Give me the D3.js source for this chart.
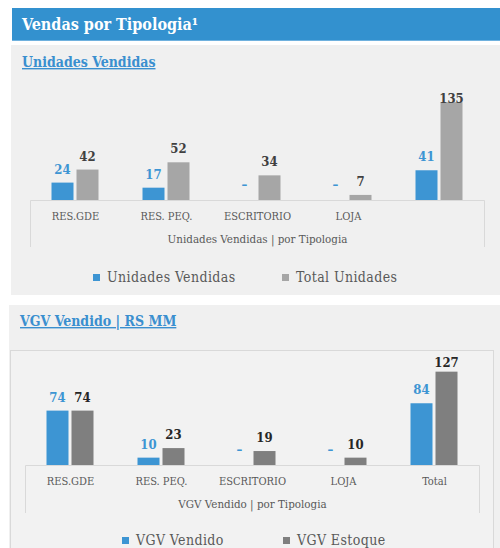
<!DOCTYPE html>
<html>
<head>
<meta charset="utf-8">
<script src="https://cdn.jsdelivr.net/npm/d3@7"></script>
<style>
  html, body { margin: 0; padding: 0; background: #ffffff; }
  svg { display: block; }
  .slab { font-family: "DejaVu Serif Condensed", "DejaVu Serif", serif; font-stretch: condensed; }
</style>
</head>
<body>
<svg id="chart" width="500" height="548"></svg>
<script>
// Units sold by type
const unitCategories = ["RES.GDE", "RES. PEQ.", "ESCRITORIO", "LOJA", ""];
const unitsSold = [24, 17, 0, 0, 41];
const unitsTotal = [42, 52, 34, 7, 135];
const unitSeries = ["Unidades Vendidas", "Total Unidades"];

// Sales value (R$ MM) by type
const vgvCategories = ["RES.GDE", "RES. PEQ.", "ESCRITORIO", "LOJA", "Total"];
const vgvSold = [74, 10, 0, 0, 84];
const vgvStock = [74, 23, 19, 10, 127];
const vgvSeries = ["VGV Vendido", "VGV Estoque"];

const BLUE = "#3d95d3";
const svg = d3.select("#chart");

// Header band
svg.append("rect").attr("x", 12).attr("y", 8).attr("width", 488).attr("height", 32).attr("fill", "#3391cf");
svg.append("rect").attr("x", 12).attr("y", 40).attr("width", 488).attr("height", 1).attr("fill", "#6fb1de");
svg.append("text").attr("class", "slab")
  .attr("x", 22).attr("y", 30)
  .attr("fill", "#ffffff").attr("font-size", 16).attr("font-weight", "bold")
  .text("Vendas por Tipologia¹");

// Panels
svg.append("rect").attr("x", 11).attr("y", 45).attr("width", 489).attr("height", 250).attr("fill", "#f0f0f0");
svg.append("rect").attr("x", 9).attr("y", 305).attr("width", 491).attr("height", 243).attr("fill", "#f0f0f0");
svg.append("rect").attr("x", 10.5).attr("y", 350.5).attr("width", 483).attr("height", 220)
  .attr("fill", "#f2f2f2").attr("stroke", "#d9d9d9");

function subtitle(text, x, y) {
  svg.append("text").attr("class", "slab")
    .attr("x", x).attr("y", y)
    .attr("fill", "#3a8fcf").attr("font-size", 14).attr("font-weight", "bold")
    .attr("text-decoration", "underline")
    .text(text);
}
subtitle("Unidades Vendidas", 22, 67);
subtitle("VGV Vendido | RS MM", 20, 326);

function drawChart(o) {
  const g = svg.append("g");
  const x0 = d3.scaleBand().domain(o.categories).range([o.left, o.right]).paddingInner(0).paddingOuter(0);
  const bw = x0.bandwidth();
  const x1 = d3.scaleBand().domain([0, 1]).range([bw / 2 - 24, bw / 2 + 23]).paddingInner(0.12);
  const y = d3.scaleLinear().domain([0, 160]).range([o.base, o.base - 160 * o.pxPerUnit]);

  // frame under the bars
  g.append("path")
    .attr("d", `M${o.left + 0.5},${o.frameBottom}V${o.base + 0.5}H${o.right - 0.5}V${o.frameBottom}`)
    .attr("fill", "none").attr("stroke", "#d9d9d9").attr("stroke-width", 1);

  const series = [
    { values: o.a, color: BLUE, label: BLUE },
    { values: o.b, color: o.greyFill, label: o.greyLabel }
  ];
  series.forEach((s, si) => {
    const cg = g.append("g");
    cg.selectAll("rect").data(s.values).join("rect")
      .attr("x", (d, i) => x0(o.categories[i]) + x1(si))
      .attr("y", d => y(d))
      .attr("width", x1.bandwidth())
      .attr("height", d => y(0) - y(d))
      .attr("fill", s.color);
    cg.selectAll("text").data(s.values).join("text").attr("class", "slab")
      .attr("x", (d, i) => x0(o.categories[i]) + x1(si) + x1.bandwidth() / 2)
      .attr("y", d => d === 0 ? y(0) - 11 : Math.max(y(d) - 9, o.labelMin))
      .attr("text-anchor", "middle")
      .attr("font-size", 13).attr("font-weight", "bold")
      .attr("fill", s.label)
      .text(d => d === 0 ? "–" : d);
  });

  // category labels
  g.selectAll("text.cat").data(o.categories).join("text").attr("class", "slab cat")
    .attr("x", d => x0(d) + bw / 2)
    .attr("y", o.base + 20)
    .attr("text-anchor", "middle").attr("font-size", 11).attr("fill", "#595959")
    .text(d => d);
  g.append("text").attr("class", "slab")
    .attr("x", (o.left + o.right) / 2).attr("y", o.base + 43)
    .attr("text-anchor", "middle").attr("font-size", 11.5).attr("fill", "#595959")
    .text(o.axisTitle);

  // legend
  o.legend.forEach((name, i) => {
    const lx = o.legendX[i];
    g.append("rect").attr("x", lx).attr("y", o.legendY - 8).attr("width", 7).attr("height", 7)
      .attr("fill", i === 0 ? BLUE : o.greyFill);
    g.append("text").attr("class", "slab")
      .attr("x", lx + 14).attr("y", o.legendY)
      .attr("font-size", 14).attr("letter-spacing", 0.4).attr("fill", "#595959")
      .text(name);
  });
}

drawChart({
  categories: unitCategories, a: unitsSold, b: unitsTotal,
  left: 30, right: 485, base: 200, frameBottom: 247, pxPerUnit: 0.725, labelMin: 103,
  greyFill: "#a6a6a6", greyLabel: "#404040",
  axisTitle: "Unidades Vendidas | por Tipologia",
  legend: unitSeries, legendX: [93, 282], legendY: 282
});

drawChart({
  categories: vgvCategories, a: vgvSold, b: vgvStock,
  left: 25, right: 480, base: 465, frameBottom: 513, pxPerUnit: 0.735, labelMin: 367,
  greyFill: "#7f7f7f", greyLabel: "#262626",
  axisTitle: "VGV Vendido | por Tipologia",
  legend: vgvSeries, legendX: [122, 283], legendY: 545
});
</script>
</body>
</html>
